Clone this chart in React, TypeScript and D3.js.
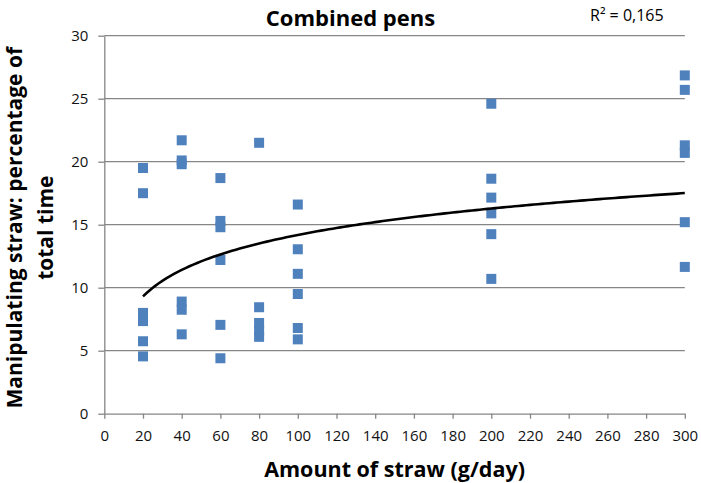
import { useEffect, useRef } from 'react';
import * as d3 from 'd3';

// Amount of straw (g/day) for each observation, with the matching percentage of time
const strawAmounts = [
  20, 20, 20, 20, 20, 20,
  40, 40, 40, 40, 40, 40,
  60, 60, 60, 60, 60, 60,
  80, 80, 80, 80, 80,
  100, 100, 100, 100, 100, 100,
  200, 200, 200, 200, 200, 200,
  300, 300, 300, 300, 300, 300,
];
const manipulating = [
  19.5, 17.5, 8.0, 7.35, 5.75, 4.55,
  21.7, 20.1, 19.8, 8.9, 8.25, 6.3,
  18.7, 15.3, 14.8, 12.2, 7.05, 4.4,
  21.5, 8.45, 7.2, 6.6, 6.1,
  16.6, 13.05, 11.1, 9.5, 6.8, 5.9,
  24.6, 18.65, 17.15, 15.9, 14.25, 10.7,
  26.85, 25.7, 21.3, 20.7, 15.2, 11.65,
];

const xTicks = [0, 20, 40, 60, 80, 100, 120, 140, 160, 180, 200, 220, 240, 260, 280, 300];
const yTicks = [0, 5, 10, 15, 20, 25, 30];

const title = 'Combined pens';
const rSquaredLabel = 'R² = 0,165';
const xTitle = 'Amount of straw (g/day)';
const yTitleLines = ['Manipulating straw: percentage of', 'total time'];

const W = 701;
const H = 483;
const FONT = '"Open Sans", sans-serif';

export default function App() {
  const svgRef = useRef<SVGSVGElement>(null);

  useEffect(() => {
    if (!svgRef.current) return;
    const svg = d3.select(svgRef.current);
    svg.selectAll('*').remove();

    const x = d3.scaleLinear().domain([0, 300]).range([104.3, 684.8]);
    const y = d3.scaleLinear().domain([0, 30]).range([413.7, 35.7]);
    const gray = '#868686';

    // horizontal gridlines
    svg
      .append('g')
      .selectAll('line')
      .data(yTicks.filter((t) => t > 0))
      .join('line')
      .attr('x1', x(0))
      .attr('x2', x(300))
      .attr('y1', (d) => y(d))
      .attr('y2', (d) => y(d))
      .attr('stroke', gray)
      .attr('stroke-width', 1.3);

    // axes
    const xAxis = svg
      .append('g')
      .attr('transform', `translate(0,${y(0)})`)
      .call(d3.axisBottom(x).tickValues(xTicks).tickSize(5).tickSizeOuter(0).tickPadding(20));
    const yAxis = svg
      .append('g')
      .attr('transform', `translate(${x(0)},0)`)
      .call(d3.axisLeft(y).tickValues(yTicks).tickSize(6).tickSizeOuter(0).tickPadding(10));

    [xAxis, yAxis].forEach((g) => {
      g.select('.domain').attr('stroke', gray).attr('stroke-width', 1.3);
      g.selectAll('.tick line').attr('stroke', gray).attr('stroke-width', 1.3);
      g.selectAll('.tick text')
        .attr('fill', '#111')
        .attr('font-family', FONT)
        .attr('font-size', 15);
    });
    xAxis.selectAll('.tick text').attr('dy', '0.15em');

    // logarithmic trendline fitted to the points
    const lx = strawAmounts.map((v) => Math.log(v));
    const mx = d3.mean(lx) ?? 0;
    const my = d3.mean(manipulating) ?? 0;
    const sxy = d3.sum(lx, (v, i) => (v - mx) * (manipulating[i] - my));
    const sxx = d3.sum(lx, (v) => (v - mx) ** 2);
    const a = sxy / sxx;
    const b = my - a * mx;
    const trendX = d3.range(20, 301, 2);
    const line = d3
      .line<number>()
      .x((d) => x(d))
      .y((d) => y(a * Math.log(d) + b));

    // markers
    const s = 10;
    svg
      .append('g')
      .selectAll('rect')
      .data(strawAmounts)
      .join('rect')
      .attr('x', (d) => x(d) - s / 2)
      .attr('y', (d, i) => y(manipulating[i]) - s / 2)
      .attr('width', s)
      .attr('height', s)
      .attr('fill', '#4F81BD');

    svg
      .append('path')
      .datum(trendX)
      .attr('d', line)
      .attr('fill', 'none')
      .attr('stroke', '#000')
      .attr('stroke-width', 2.6);

    // titles
    svg
      .append('text')
      .attr('x', W / 2)
      .attr('y', 26)
      .attr('text-anchor', 'middle')
      .attr('font-family', FONT)
      .attr('font-weight', 'bold')
      .attr('font-size', 22)
      .attr('fill', '#000')
      .text(title);

    svg
      .append('text')
      .attr('x', 590)
      .attr('y', 21)
      .attr('font-family', FONT)
      .attr('font-size', 16)
      .attr('fill', '#000')
      .text(rSquaredLabel);

    svg
      .append('text')
      .attr('x', (x(0) + x(300)) / 2)
      .attr('y', 477)
      .attr('text-anchor', 'middle')
      .attr('font-family', FONT)
      .attr('font-weight', 'bold')
      .attr('font-size', 21.5)
      .attr('fill', '#000')
      .text(xTitle);

    const yt = svg
      .append('text')
      .attr('transform', `translate(0,${(y(0) + y(30)) / 2 + 3}) rotate(-90)`)
      .attr('text-anchor', 'middle')
      .attr('font-family', FONT)
      .attr('font-weight', 'bold')
      .attr('font-size', 21)
      .attr('fill', '#000');
    yTitleLines.forEach((t, i) => {
      yt.append('tspan')
        .attr('x', 0)
        .attr('y', 22 + i * 31)
        .text(t);
    });
  }, []);

  return (
    <svg
      ref={svgRef}
      width={W}
      height={H}
      style={{ position: 'absolute', left: 0, top: 0, background: '#fff' }}
    />
  );
}
